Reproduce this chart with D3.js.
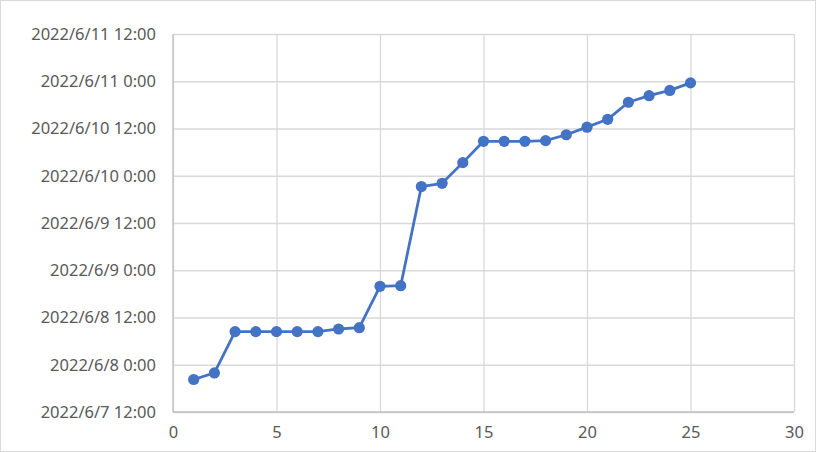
<!DOCTYPE html>
<html><head><meta charset="utf-8">
<script src="https://cdn.jsdelivr.net/npm/d3@7"></script>
<style>body{margin:0;background:#fff;} svg{display:block;}</style>
</head><body>
<svg id="c" width="816" height="452"></svg>
<script>
const xValues = [1,2,3,4,5,6,7,8,9,10,11,12,13,14,15,16,17,18,19,20,21,22,23,24,25];
const timeValues = [
 "2022-06-07T20:15","2022-06-07T21:55","2022-06-08T08:25","2022-06-08T08:25","2022-06-08T08:25",
 "2022-06-08T08:25","2022-06-08T08:25","2022-06-08T09:05","2022-06-08T09:25","2022-06-08T19:55",
 "2022-06-08T20:05","2022-06-09T21:15","2022-06-09T22:05","2022-06-10T03:20","2022-06-10T08:45",
 "2022-06-10T08:45","2022-06-10T08:45","2022-06-10T08:55","2022-06-10T10:25","2022-06-10T12:20",
 "2022-06-10T14:20","2022-06-10T18:40","2022-06-10T20:20","2022-06-10T21:40","2022-06-10T23:35"];
const xTicks = [0,5,10,15,20,25,30];
const yTickLabels = ["2022/6/7 12:00","2022/6/8 0:00","2022/6/8 12:00","2022/6/9 0:00","2022/6/9 12:00","2022/6/10 0:00","2022/6/10 12:00","2022/6/11 0:00","2022/6/11 12:00"];

const parse = d3.timeParse("%Y-%m-%dT%H:%M");
const parseTick = d3.timeParse("%Y/%m/%d %H:%M");
const yTicks = yTickLabels.map(parseTick);
const data = xValues.map((x,i)=>({x, t: parse(timeValues[i])}));

const svg = d3.select("#c");
const m = {l:173, r:794, t:34, b:412};
const x = d3.scaleLinear().domain([0,30]).range([m.l, m.r]);
const y = d3.scaleTime().domain([yTicks[0], yTicks[yTicks.length-1]]).range([m.b, m.t]);

svg.append("rect").attr("x",0.5).attr("y",0.5).attr("width",815).attr("height",451)
  .attr("fill","#fff").attr("stroke","#d9d9d9");

const font = "'Noto Sans', sans-serif";
const yAxis = d3.axisLeft(y).tickValues(yTicks)
  .tickFormat((d,i)=>yTickLabels[i]).tickSize(-(m.r-m.l)).tickPadding(17);
const gy = svg.append("g").attr("transform",`translate(${m.l},0)`).call(yAxis);
gy.select(".domain").remove();
gy.selectAll(".tick line").attr("stroke","#d9d9d9").attr("stroke-width",1.3);
gy.selectAll(".tick text").attr("fill","#595959").style("font-family",font).style("font-size","16.5px");

const xAxis = d3.axisBottom(x).tickValues(xTicks).tickSize(-(m.b-m.t)).tickPadding(14);
const gx = svg.append("g").attr("transform",`translate(0,${m.b})`).call(xAxis);
gx.select(".domain").remove();
gx.selectAll(".tick line").attr("stroke","#d9d9d9").attr("stroke-width",1.3);
gx.selectAll(".tick text").attr("fill","#595959").style("font-family",font).style("font-size","16.5px");

svg.append("line").attr("x1",m.l).attr("x2",m.l).attr("y1",m.t).attr("y2",m.b).attr("stroke","#bfbfbf").attr("stroke-width",1.3);
svg.append("line").attr("x1",m.l).attr("x2",m.r).attr("y1",m.b).attr("y2",m.b).attr("stroke","#bfbfbf").attr("stroke-width",1.3);

const line = d3.line().x(d=>x(d.x)).y(d=>y(d.t));
svg.append("path").datum(data).attr("d",line).attr("fill","none")
  .attr("stroke","#4472c4").attr("stroke-width",2.8).attr("stroke-linejoin","round");
svg.append("g").selectAll("circle").data(data).join("circle")
  .attr("cx",d=>x(d.x)).attr("cy",d=>y(d.t)).attr("r",5.6).attr("fill","#4472c4");
</script>
</body></html>
